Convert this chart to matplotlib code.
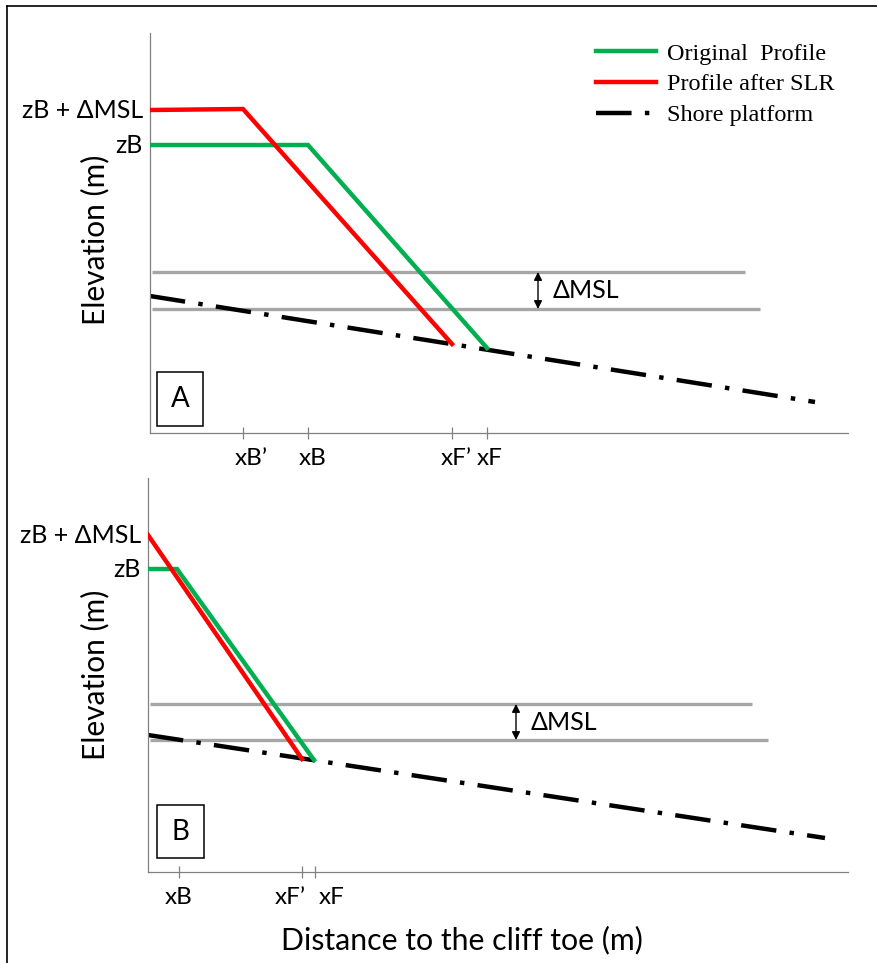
"""Schematic of cliff-top profile retreat under sea level rise (panels A and B)."""

import matplotlib.pyplot as plt
from matplotlib.lines import Line2D
from matplotlib.patches import Rectangle

W, H = 877, 963

# ---- panel A (schematic units) ----
a_orig_x = [0, 158, 337]
a_orig_z = [288, 288, 85]
a_slr_x = [0, 93, 302]
a_slr_z = [323, 324, 89]
a_platform_x = [0, 665]
a_platform_z = [137, 31]
a_msl_levels = [161, 124]
a_msl_ends = [595, 610]
a_ticks = [93, 158, 302, 337]
a_tick_labels = ["xB\u2019", "xB", "xF\u2019", "xF"]
a_label_x = [101, 163, 306, 340]

# ---- panel B ----
b_orig_x = [2, 29, 166]
b_orig_z = [303, 303, 112]
b_slr_x = [0, 154]
b_slr_z = [337, 113]
b_platform_x = [0, 677]
b_platform_z = [137, 34]
b_msl_levels = [168, 132]
b_msl_ends = [604, 620]
b_ticks = [31, 154, 167]
b_tick_labels = ["xB", "xF\u2019", "xF"]
b_label_x = [31, 142, 184]

GREEN = "#00b050"
RED = "#ff0000"
GRAY = "#a6a6a6"
AXC = "#808080"
SANS = "Lato"
SERIF = "Liberation Serif"
DASHDOT = (0, (8, 3, 1, 3))
FS = 17.5


def add_panel(rect_px):
    left, top, right, bottom = rect_px
    ax = fig.add_axes([left / W, 1 - bottom / H, (right - left) / W, (bottom - top) / H])
    ax.set_xlim(0, right - left)
    ax.set_ylim(0, bottom - top)
    for s in ("top", "right"):
        ax.spines[s].set_visible(False)
    for s in ("left", "bottom"):
        ax.spines[s].set_color(AXC)
        ax.spines[s].set_linewidth(0.9)
    ax.set_yticks([])
    ax.tick_params(axis="x", direction="inout", length=9, width=0.9, color=AXC, labelbottom=False)
    ax.patch.set_alpha(0)
    return ax


def draw_panel(ax, orig, slr, plat, levels, ends, ticks, labels, label_x, arrow_x, zb_label_y, letter, box):
    for lv, end in zip(levels, ends):
        ax.plot([2, end], [lv, lv], color=GRAY, lw=2.4, solid_capstyle="butt", zorder=1)
    l_orig, = ax.plot(*orig, color=GREEN, lw=3.2, solid_joinstyle="miter", zorder=3,
                      label="Original  Profile")
    l_slr, = ax.plot(*slr, color=RED, lw=3.2, solid_joinstyle="miter", zorder=3,
                     label="Profile after SLR")
    l_plat, = ax.plot(*plat, color="black", lw=3.2, linestyle=DASHDOT, zorder=2,
                      label="Shore platform")
    ax.annotate("", xy=(arrow_x, levels[1]), xytext=(arrow_x, levels[0]),
                arrowprops=dict(arrowstyle="<|-|>", color="black", lw=1, mutation_scale=12,
                                shrinkA=0, shrinkB=0))
    ax.text(arrow_x + 15, (levels[0] + levels[1]) / 2, "\u0394MSL", family=SANS,
            fontsize=18, va="center", ha="left")
    ax.set_xticks(ticks)
    for lx, lab in zip(label_x, labels):
        ax.text(lx, -25, lab, family=SANS, fontsize=FS, ha="center", va="center")
    ax.text(-7, zb_label_y[0], "zB + \u0394MSL", family=SANS, fontsize=18, ha="right", va="center")
    ax.text(-7, zb_label_y[1], "zB", family=SANS, fontsize=18, ha="right", va="center")
    x0, y0, bw, bh = box
    ax.add_patch(Rectangle((x0, y0), bw, bh, fill=False, edgecolor="black", lw=1.1, zorder=4))
    ax.text(x0 + bw / 2, y0 + bh / 2, letter, family=SANS, fontsize=20, ha="center", va="center")
    for a in ax.texts:
        a.set_clip_on(False)
    return l_orig, l_slr, l_plat


fig = plt.figure(figsize=(W / 100, H / 100), dpi=100)

ax_a = add_panel((150, 33, 848, 433))
handles = draw_panel(ax_a, (a_orig_x, a_orig_z), (a_slr_x, a_slr_z), (a_platform_x, a_platform_z),
                     a_msl_levels, a_msl_ends, a_ticks, a_tick_labels, a_label_x, 388,
                     (a_slr_z[0], a_orig_z[0]), "A", (7, 7, 46, 54))

ax_b = add_panel((148, 478, 848, 872))
draw_panel(ax_b, (b_orig_x, b_orig_z), (b_slr_x, b_slr_z), (b_platform_x, b_platform_z),
           b_msl_levels, b_msl_ends, b_ticks, b_tick_labels, b_label_x, 368,
           (b_slr_z[0], b_orig_z[0]), "B", (9, 14, 47, 53))

ax_a.legend(handles=handles, loc="upper left", bbox_to_anchor=(586 / W, 1 - 33 / H),
            bbox_transform=fig.transFigure, frameon=False, handlelength=2.5,
            handletextpad=0.45, labelspacing=0.36, borderaxespad=0,
            prop={"family": SERIF, "size": 17.5})

fig.text(95 / W, 1 - 240 / H, "Elevation (m)", family=SANS, fontsize=21.5,
         rotation=90, ha="center", va="center")
fig.text(95 / W, 1 - 675 / H, "Elevation (m)", family=SANS, fontsize=21.5,
         rotation=90, ha="center", va="center")
fig.text(462 / W, 1 - 940 / H, "Distance to the cliff toe (m)", family=SANS, fontsize=21.8,
         ha="center", va="center")

# frame lines on the left and top edges
fig.add_artist(Line2D([7 / W, 7 / W], [0, 1 - 6 / H], transform=fig.transFigure, color="black", lw=1.2))
fig.add_artist(Line2D([7 / W, 1], [1 - 6 / H, 1 - 6 / H], transform=fig.transFigure, color="black", lw=1.2))

fig.savefig("out.png", dpi=100)
